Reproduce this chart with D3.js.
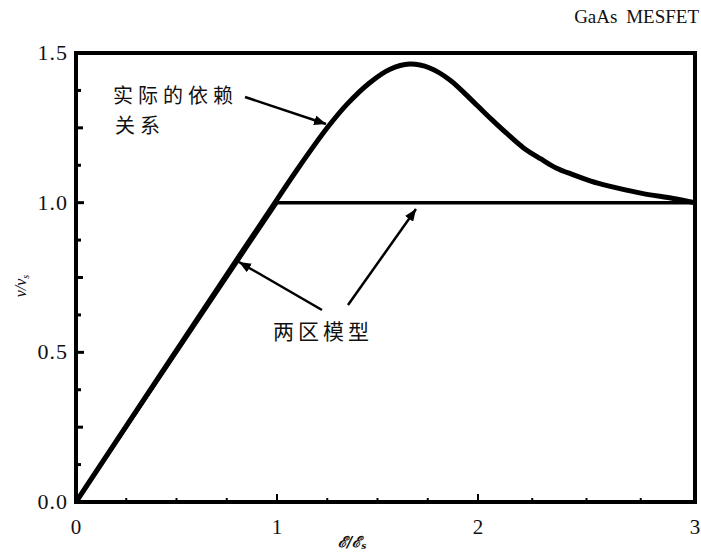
<!DOCTYPE html>
<html>
<head>
<meta charset="utf-8">
<script src="https://cdn.jsdelivr.net/npm/d3@7"></script>
<style>
  body { margin: 0; background: #fff; }
  text { fill: #111; }
</style>
</head>
<body>
<svg id="chart" width="701" height="557"></svg>
<script>
// measured curve: v/vs against E/Es
const actualE = [0, 0.8, 0.95, 1.10, 1.25, 1.35, 1.46, 1.56, 1.66, 1.76, 1.86, 1.98, 2.06, 2.13, 2.21, 2.29, 2.36, 2.44, 2.52, 2.60, 2.75, 2.90, 3.0];
const actualV = [0, 0.81, 0.96, 1.11, 1.25, 1.33, 1.40, 1.445, 1.463, 1.45, 1.41, 1.335, 1.28, 1.233, 1.183, 1.146, 1.116, 1.093, 1.072, 1.056, 1.032, 1.014, 1.0];

// two-region model
const modelE = [0, 1, 3];
const modelV = [0, 1, 1];

const xTicks = [0, 1, 2, 3];
const yTicks = [0, 0.5, 1.0, 1.5];

const svg = d3.select('#chart');

// the scan is a little uneven, so the x scale is piecewise
const x = d3.scaleLinear().domain([0, 1, 2, 3]).range([76, 277, 478, 695]);
const y = d3.scaleLinear().domain([0, 1.5]).range([502, 53]);

// arrow head
svg.append('defs').append('marker')
  .attr('id', 'head')
  .attr('viewBox', '0 0 12 10')
  .attr('refX', 12).attr('refY', 5)
  .attr('markerWidth', 12).attr('markerHeight', 10)
  .attr('markerUnits', 'userSpaceOnUse')
  .attr('orient', 'auto')
  .append('path')
  .attr('d', 'M0,0 L12,5 L0,10 Z')
  .attr('fill', '#000');

// frame
svg.append('rect')
  .attr('x', x(0)).attr('y', y(1.5))
  .attr('width', x(3) - x(0)).attr('height', y(0) - y(1.5))
  .attr('fill', 'none').attr('stroke', '#000').attr('stroke-width', 4);

// inward ticks on the left, every eighth of a unit
const yMinor = d3.range(0, 13).map((i) => i / 8);
svg.append('g').selectAll('line')
  .data(yMinor)
  .join('line')
  .attr('x1', x(0))
  .attr('x2', (d, i) => x(0) + (i % 4 === 0 ? 8 : i % 2 === 0 ? 7 : 5))
  .attr('y1', (d) => y(d)).attr('y2', (d) => y(d))
  .attr('stroke', '#000').attr('stroke-width', 3);

// inward ticks on the bottom
const xMinor = d3.range(0, 13).map((i) => i / 4);
svg.append('g').selectAll('line')
  .data(xMinor)
  .join('line')
  .attr('x1', (d) => x(d)).attr('x2', (d) => x(d))
  .attr('y1', y(0))
  .attr('y2', (d, i) => y(0) - (i % 4 === 0 ? 8 : 4))
  .attr('stroke', '#000').attr('stroke-width', 2);

// tick labels
svg.append('g').selectAll('text')
  .data(yTicks)
  .join('text')
  .attr('x', 68)
  .attr('y', (d) => y(d) + 7)
  .attr('text-anchor', 'end')
  .attr('font-family', 'Liberation Serif, serif')
  .attr('font-size', 22)
  .attr('letter-spacing', 1)
  .text((d) => d3.format('.1f')(d));

svg.append('g').selectAll('text')
  .data(xTicks)
  .join('text')
  .attr('x', (d) => x(d))
  .attr('y', 534)
  .attr('text-anchor', 'middle')
  .attr('font-family', 'Liberation Serif, serif')
  .attr('font-size', 21)
  .text((d) => d);

// axis titles
const xTitle = svg.append('text')
  .attr('x', 352).attr('y', 547)
  .attr('text-anchor', 'middle')
  .attr('font-family', 'DejaVu Serif, serif')
  .attr('font-style', 'italic')
  .attr('font-weight', 'bold')
  .attr('font-size', 15);
xTitle.append('tspan').text('ℰ/ℰ');
xTitle.append('tspan').attr('font-size', 9).attr('dy', 2).text('s');

const yTitle = svg.append('text')
  .attr('transform', 'translate(26,286) rotate(-90)')
  .attr('text-anchor', 'middle')
  .attr('font-family', 'Liberation Serif, serif')
  .attr('font-style', 'italic')
  .attr('font-size', 16);
yTitle.append('tspan').text('v/v');
yTitle.append('tspan').attr('font-size', 10).attr('dy', 3).text('s');

// title
svg.append('text')
  .attr('x', 699).attr('y', 23)
  .attr('text-anchor', 'end')
  .attr('font-family', 'Liberation Serif, serif')
  .attr('font-size', 19)
  .attr('word-spacing', 4)
  .text('GaAs MESFET');

// lines
const line = d3.line()
  .x((d) => x(d[0]))
  .y((d) => y(d[1]));

svg.append('path')
  .datum(d3.zip(modelE, modelV))
  .attr('d', line)
  .attr('fill', 'none')
  .attr('stroke', '#000')
  .attr('stroke-width', 3.5);

svg.append('path')
  .datum(d3.zip(actualE, actualV))
  .attr('d', d3.line()
    .x((d) => x(d[0]))
    .y((d) => y(d[1]))
    .curve(d3.curveCatmullRom.alpha(0.5)))
  .attr('fill', 'none')
  .attr('stroke', '#000')
  .attr('stroke-width', 5);

// annotations
const cjk = 'Noto Sans CJK SC, sans-serif';
svg.append('text')
  .attr('x', 113).attr('y', 103)
  .attr('font-family', cjk).attr('font-size', 20)
  .attr('letter-spacing', 5)
  .text('实际的依赖');
svg.append('text')
  .attr('x', 115).attr('y', 133)
  .attr('font-family', cjk).attr('font-size', 20)
  .attr('letter-spacing', 5)
  .text('关系');
svg.append('text')
  .attr('x', 273).attr('y', 339)
  .attr('font-family', cjk).attr('font-size', 21)
  .attr('letter-spacing', 4)
  .text('两区模型');

const arrows = [
  [245, 97, 326, 124],
  [322, 310, 239, 262],
  [348, 305, 416, 209]
];
svg.append('g').selectAll('line')
  .data(arrows)
  .join('line')
  .attr('x1', (d) => d[0]).attr('y1', (d) => d[1])
  .attr('x2', (d) => d[2]).attr('y2', (d) => d[3])
  .attr('stroke', '#000').attr('stroke-width', 2.5)
  .attr('marker-end', 'url(#head)');
</script>
</body>
</html>
